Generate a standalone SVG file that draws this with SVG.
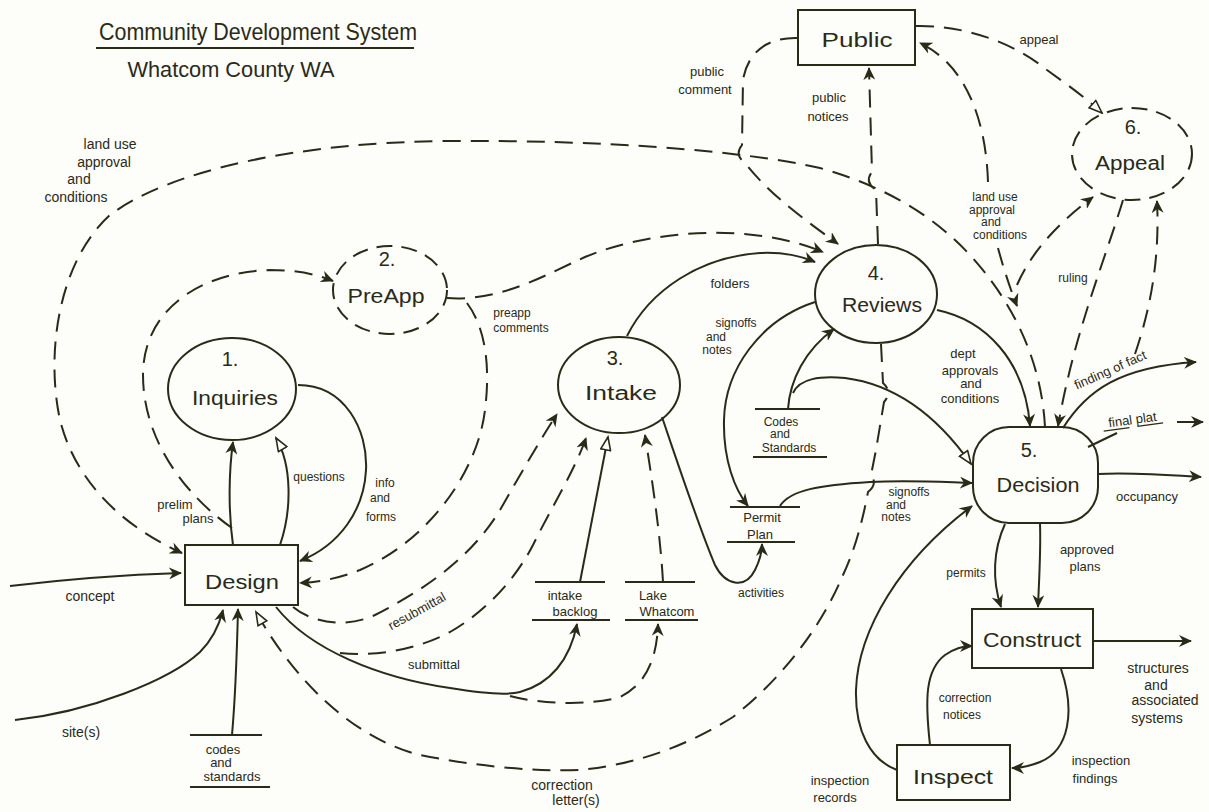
<svg xmlns="http://www.w3.org/2000/svg" width="1209" height="812" viewBox="0 0 1209 812">
<style>
text{font-family:"Liberation Sans",Arial,sans-serif;fill:#2a2a18}
.nl{font-size:20px;text-anchor:middle}
.el{font-size:12px;text-anchor:middle}
.em{font-size:13px;text-anchor:middle}
.eb{font-size:14px;text-anchor:middle}
.node{fill:none;stroke:#2a2a18;stroke-width:2}
.dnode{fill:none;stroke:#2a2a18;stroke-width:2;stroke-dasharray:16 9}
.s{fill:none;stroke:#2a2a18;stroke-width:2}
.d{fill:none;stroke:#2a2a18;stroke-width:2;stroke-dasharray:18 10}
.store{stroke:#2a2a18;stroke-width:2}
</style>
<defs>
<marker id="arr" markerUnits="userSpaceOnUse" markerWidth="14" markerHeight="12" refX="12" refY="6" orient="auto">
<path d="M0,0 L13,6 L0,12 L4,6 Z" fill="#2a2a18" stroke="none"/>
</marker>
<marker id="hol" markerUnits="userSpaceOnUse" markerWidth="16" markerHeight="12" refX="14" refY="6" orient="auto">
<path d="M1,1 L14,6 L1,11 Z" fill="#ffffff" stroke="#2a2a18" stroke-width="1.6"/>
</marker>
</defs>
<rect x="0" y="0" width="1209" height="812" fill="#fdfdf9"/>

<g id="title">
<text x="258" y="40" font-size="24" text-anchor="middle" textLength="318" lengthAdjust="spacingAndGlyphs">Community Development System</text>
<line x1="96" y1="48" x2="414" y2="48" class="store"/>
<text x="231" y="77" font-size="22" text-anchor="middle" textLength="207" lengthAdjust="spacingAndGlyphs">Whatcom County WA</text>
</g>

<g id="connectors">
<path class="s" d="M 10 586 C 60 580, 120 575, 181 573" marker-end="url(#arr)"/>
<path class="s" d="M 15 720 C 90 712, 170 680, 200 652 C 214 638, 220 622, 223 610" marker-end="url(#arr)"/>
<path class="s" d="M 232 735 C 236 690, 237 650, 238 609" marker-end="url(#arr)"/>
<path class="s" d="M 233 545 C 228 510, 229 470, 233 442" marker-end="url(#arr)"/>
<path class="s" d="M 280 545 C 292 510, 292 465, 276 438" marker-end="url(#hol)"/>
<path class="s" d="M 298 385 C 345 385, 368 430, 366 470 C 364 510, 340 545, 300 561" marker-end="url(#arr)"/>
<path class="d" d="M 232 528 C 185 495, 143 440, 143 375 C 143 310, 200 272, 270 270 C 300 270, 318 275, 333 281" marker-end="url(#arr)"/>
<path class="d" d="M 1045 427 C 1042 370, 1020 310, 970 255 C 930 212, 880 185, 820 168 C 740 150, 600 140, 450 141 C 300 142, 170 170, 110 215 C 60 260, 45 350, 60 420 C 75 480, 120 525, 182 553" marker-end="url(#arr)"/>
<path class="d" d="M 798 38 C 770 37, 748 50, 743 80 L 742 145 Q 734 155 745 163 C 770 195, 805 220, 838 244" marker-end="url(#arr)"/>
<path class="d" d="M 878 244 L 876 190 Q 864 182 872 172 L 869 68" marker-end="url(#arr)"/>
<path class="d" d="M 916 26 C 960 25, 1010 40, 1047 70 C 1072 88, 1088 100, 1102 113" marker-end="url(#hol)"/>
<path class="d" d="M 988 182 C 986 120, 966 65, 920 43" marker-end="url(#arr)"/>
<path class="d" d="M 998 248 C 1004 270, 1010 288, 1017 306" marker-end="url(#arr)"/>
<path class="d" d="M 1017 285 C 1030 255, 1055 225, 1093 197" marker-end="url(#arr)"/>
<path class="d" d="M 1123 200 C 1105 260, 1075 330, 1058 426" marker-end="url(#arr)"/>
<path class="d" d="M 1135 354 C 1150 310, 1160 260, 1157 201" marker-end="url(#arr)"/>
<path class="s" d="M 1063 428 C 1087 390, 1120 367, 1196 362" marker-end="url(#arr)"/>
<path class="s" d="M 1088 447 L 1117 433"/>
<path class="s" d="M 1177 422 L 1203 422" marker-end="url(#arr)"/>
<path class="s" d="M 1098 474 C 1130 472, 1170 475, 1201 477" marker-end="url(#arr)"/>
<path class="s" d="M 937 310 C 985 320, 1025 360, 1030 426" marker-end="url(#arr)"/>
<path class="s" d="M 627 336 C 650 290, 700 257, 760 253 C 785 252, 800 256, 815 262" marker-end="url(#arr)"/>
<path class="d" d="M 447 298 C 500 302, 545 275, 585 257 C 650 230, 750 222, 823 252" marker-end="url(#arr)"/>
<path class="d" d="M 467 303 C 487 330, 490 370, 485 410 C 478 470, 430 540, 360 570 C 340 578, 320 582, 300 583" marker-end="url(#arr)"/>
<path class="d" d="M 293 607 C 315 625, 350 627, 375 615 C 420 592, 470 560, 500 510 C 520 475, 540 440, 557 414" marker-end="url(#arr)"/>
<path class="s" d="M 276 607 C 310 650, 380 678, 450 688 C 480 693, 505 696, 520 692 C 550 684, 570 660, 577 624" marker-end="url(#arr)"/>
<path class="d" d="M 340 653 C 380 657, 420 648, 450 632 C 485 612, 515 580, 533 545 C 550 510, 575 470, 586 438" marker-end="url(#arr)"/>
<path class="d" d="M 510 696 C 540 704, 590 706, 620 697 C 645 685, 657 660, 658 624" marker-end="url(#arr)"/>
<path class="s" d="M 580 582 C 590 530, 600 480, 608 437" marker-end="url(#hol)"/>
<path class="d" d="M 663 582 C 660 530, 652 480, 645 435" marker-end="url(#arr)"/>
<path class="s" d="M 662 417 C 680 470, 700 530, 715 565 C 725 585, 745 590, 755 570 C 760 560, 762 552, 762 544" marker-end="url(#arr)"/>
<path class="s" d="M 815 302 C 760 320, 725 370, 724 420 C 723 460, 735 490, 748 506" marker-end="url(#arr)"/>
<path class="s" d="M 788 409 C 790 380, 805 350, 834 329" marker-end="url(#arr)"/>
<path class="s" d="M 793 393 C 800 378, 820 376, 845 378 C 900 385, 940 420, 971 464" marker-end="url(#hol)"/>
<path class="s" d="M 780 506 C 790 490, 820 485, 870 482 C 910 480, 940 482, 972 483" marker-end="url(#arr)"/>
<path class="d" d="M 881 344 L 883 383 Q 893 392 884 402 L 876 450 L 871 475 Q 878 484 868 492 C 860 535, 850 560, 843 575 C 820 630, 780 680, 733 717 C 680 750, 630 765, 580 770 C 530 772, 470 765, 420 755 C 360 740, 300 690, 256 612" marker-end="url(#hol)"/>
<path class="s" d="M 1005 524 C 993 550, 992 580, 1001 607" marker-end="url(#arr)"/>
<path class="s" d="M 1040 524 C 1041 550, 1039 580, 1038 607" marker-end="url(#arr)"/>
<path class="s" d="M 1093 641 L 1191 641" marker-end="url(#arr)"/>
<path class="s" d="M 1061 669 C 1075 710, 1070 750, 1040 762 C 1030 766, 1020 768, 1012 768" marker-end="url(#arr)"/>
<path class="s" d="M 930 745 C 925 700, 925 670, 945 655 C 955 648, 963 646, 972 646" marker-end="url(#arr)"/>
<path class="s" d="M 897 770 C 870 760, 855 730, 856 690 C 858 630, 900 560, 972 506" marker-end="url(#arr)"/>

<text class="eb" x="110" y="149">land use</text>
<text class="eb" x="104" y="167">approval</text>
<text class="eb" x="79" y="184">and</text>
<text class="eb" x="76" y="202">conditions</text>
<text class="em" x="707" y="76">public</text>
<text class="em" x="705" y="94">comment</text>
<text class="em" x="829" y="102">public</text>
<text class="em" x="828" y="121">notices</text>
<text class="em" x="1039" y="44">appeal</text>
<text class="el" x="995" y="201">land use</text>
<text class="el" x="992" y="214">approval</text>
<text class="el" x="991" y="226">and</text>
<text class="el" x="1000" y="239">conditions</text>
<text class="el" x="1073" y="282">ruling</text>
<text class="em" x="730" y="288">folders</text>
<text class="el" x="736" y="327">signoffs</text>
<text class="el" x="716" y="341">and</text>
<text class="el" x="717" y="354">notes</text>
<text class="em" x="963" y="358">dept</text>
<text class="em" x="970" y="375">approvals</text>
<text class="em" x="971" y="388">and</text>
<text class="em" x="970" y="403">conditions</text>
<text class="el" x="909" y="496">signoffs</text>
<text class="el" x="896" y="509">and</text>
<text class="el" x="896" y="521">notes</text>
<text class="em" x="0" y="0" transform="translate(1112 374) rotate(-24)">finding of fact</text>
<g transform="translate(1133 424) rotate(-8)">
<text class="em" x="0" y="0">final plat</text>
<line x1="-30" y1="3" x2="-4" y2="3" stroke="#2a2a18" stroke-width="1.3"/>
<line x1="4" y1="3" x2="30" y2="3" stroke="#2a2a18" stroke-width="1.3"/>
</g>
<text class="em" x="1147" y="501">occupancy</text>
<text class="el" x="966" y="577">permits</text>
<text class="em" x="1087" y="554">approved</text>
<text class="em" x="1085" y="571">plans</text>
<text class="eb" x="1158" y="673">structures</text>
<text class="eb" x="1156" y="690">and</text>
<text class="eb" x="1165" y="705">associated</text>
<text class="eb" x="1157" y="723">systems</text>
<text class="el" x="965" y="702">correction</text>
<text class="el" x="962" y="719">notices</text>
<text class="em" x="1101" y="765">inspection</text>
<text class="em" x="1095" y="783">findings</text>
<text class="em" x="840" y="785">inspection</text>
<text class="em" x="835" y="802">records</text>
<text class="el" x="761" y="597">activities</text>
<text class="eb" x="562" y="790">correction</text>
<text class="eb" x="576" y="805">letter(s)</text>
<text class="em" x="434" y="669">submittal</text>
<text class="em" x="0" y="0" transform="translate(419 615) rotate(-29)">resubmittal</text>
<text class="el" x="319" y="481">questions</text>
<text class="el" x="385" y="487">info</text>
<text class="el" x="380" y="502">and</text>
<text class="el" x="381" y="521">forms</text>
<text class="em" x="175" y="509">prelim</text>
<text class="em" x="198" y="523">plans</text>
<text class="el" x="512" y="317">preapp</text>
<text class="el" x="521" y="332">comments</text>
<text class="eb" x="90" y="601">concept</text>
<text class="eb" x="81" y="737">site(s)</text>
</g>

<g id="public">
<rect x="798" y="10" width="117" height="55" class="node"/>
<text class="nl" x="857" y="47" textLength="71" lengthAdjust="spacingAndGlyphs">Public</text>
</g>
<g id="appeal">
<ellipse cx="1132" cy="154" rx="60" ry="46" class="dnode"/>
<text class="nl" x="1133" y="134">6.</text>
<text class="nl" x="1130" y="170" textLength="70" lengthAdjust="spacingAndGlyphs">Appeal</text>
</g>
<g id="inquiries">
<ellipse cx="232" cy="389" rx="64" ry="51" class="node"/>
<text class="nl" x="230" y="366">1.</text>
<text class="nl" x="235" y="405" textLength="86" lengthAdjust="spacingAndGlyphs">Inquiries</text>
</g>
<g id="preapp">
<ellipse cx="390" cy="290" rx="57" ry="44" class="dnode"/>
<text class="nl" x="387" y="266">2.</text>
<text class="nl" x="386" y="303" textLength="77" lengthAdjust="spacingAndGlyphs">PreApp</text>
</g>
<g id="intake">
<ellipse cx="619" cy="385" rx="61" ry="48" class="node"/>
<text class="nl" x="615" y="365">3.</text>
<text class="nl" x="621" y="400" textLength="72" lengthAdjust="spacingAndGlyphs">Intake</text>
</g>
<g id="reviews">
<ellipse cx="876" cy="294" rx="61" ry="49" class="node"/>
<text class="nl" x="876" y="280">4.</text>
<text class="nl" x="882" y="312" textLength="80" lengthAdjust="spacingAndGlyphs">Reviews</text>
</g>
<g id="decision">
<rect x="973" y="427" width="125" height="96" rx="36" ry="36" class="node"/>
<text class="nl" x="1029" y="457">5.</text>
<text class="nl" x="1038" y="492" textLength="83" lengthAdjust="spacingAndGlyphs">Decision</text>
</g>
<g id="design">
<rect x="185" y="545" width="113" height="60" class="node"/>
<text class="nl" x="242" y="589" textLength="74" lengthAdjust="spacingAndGlyphs">Design</text>
</g>
<g id="construct">
<rect x="972" y="609" width="121" height="59" class="node"/>
<text class="nl" x="1032" y="647" textLength="98" lengthAdjust="spacingAndGlyphs">Construct</text>
</g>
<g id="inspect">
<rect x="897" y="745" width="113" height="55" class="node"/>
<text class="nl" x="953" y="784" textLength="80" lengthAdjust="spacingAndGlyphs">Inspect</text>
</g>
<g id="codes-design">
<line x1="190" y1="735" x2="262" y2="735" class="store"/>
<text class="em" x="223" y="754">codes</text>
<text class="em" x="221" y="767">and</text>
<text class="em" x="232" y="781">standards</text>
<line x1="190" y1="787" x2="270" y2="787" class="store"/>
</g>
<g id="intake-backlog">
<line x1="535" y1="582" x2="605" y2="582" class="store"/>
<text class="em" x="565" y="600">intake</text>
<text class="em" x="575" y="616">backlog</text>
<line x1="532" y1="620" x2="610" y2="620" class="store"/>
</g>
<g id="lake-whatcom">
<line x1="625" y1="582" x2="695" y2="582" class="store"/>
<text class="em" x="653" y="600">Lake</text>
<text class="em" x="667" y="616">Whatcom</text>
<line x1="625" y1="620" x2="698" y2="620" class="store"/>
</g>
<g id="codes-reviews">
<line x1="755" y1="409" x2="820" y2="409" class="store"/>
<text class="el" x="781" y="426">Codes</text>
<text class="el" x="780" y="438">and</text>
<text class="el" x="789" y="452">Standards</text>
<line x1="753" y1="457" x2="827" y2="457" class="store"/>
</g>
<g id="permit-plan">
<line x1="730" y1="507" x2="800" y2="507" class="store"/>
<text class="em" x="762" y="522">Permit</text>
<text class="em" x="760" y="539">Plan</text>
<line x1="727" y1="542" x2="795" y2="542" class="store"/>
</g>
</svg>
